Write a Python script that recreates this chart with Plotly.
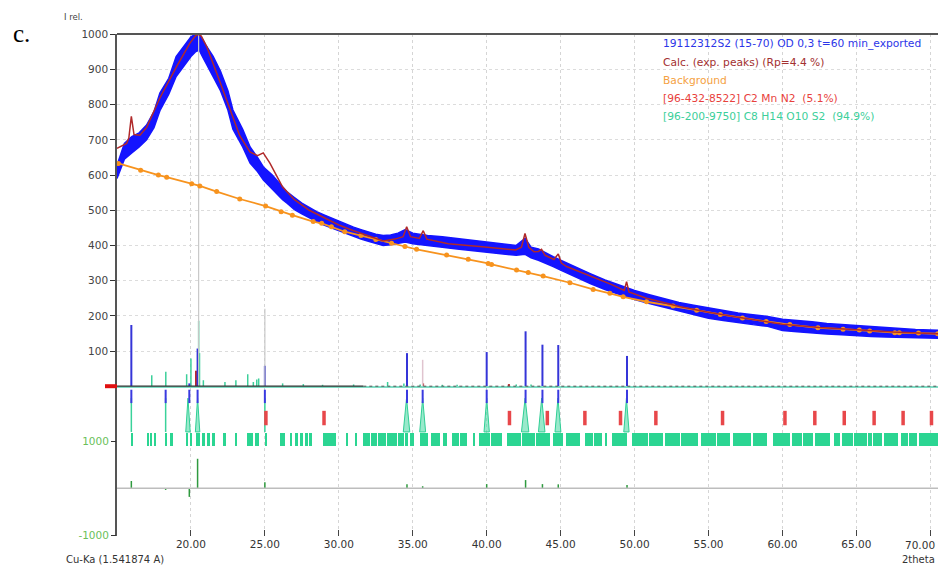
import plotly.graph_objects as go

# ---------------- data ----------------
obs_x = [15.0, 15.5, 16.0, 16.5, 17.0, 17.5, 17.9, 18.5, 19.0, 19.5, 20.0, 20.3, 20.56, 20.8, 21.0,
         21.5, 22.0, 22.5, 22.84, 23.5, 24.0, 24.5, 24.9, 25.5, 26.2, 26.5, 27.0, 27.5, 28.0, 28.5,
         29.0, 29.5, 30.0, 30.5, 31.0, 31.5, 32.0, 32.5, 33.0, 33.5, 34.0, 34.5, 35.0, 35.5, 36.0,
         37.0, 38.0, 39.0, 40.0, 41.0, 42.0, 42.6, 43.0, 43.5, 44.0, 44.5, 45.0, 45.5, 46.0, 47.0,
         48.0, 49.0, 50.0, 51.0, 52.0, 53.0, 54.0, 55.0, 56.0, 57.0, 58.0, 59.0, 60.0, 61.0, 62.0,
         63.0, 64.0, 65.0, 66.0, 67.0, 68.0, 69.0, 70.0, 70.52]
obs_lo = [590, 645, 663, 680, 700, 735, 783, 830, 880, 910, 937, 950, 955, 935, 920,
          880, 840, 785, 730, 680, 634, 610, 586, 560, 530, 520, 502, 490, 478, 468,
          458, 450, 440, 432, 425, 418, 412, 405, 400, 402, 405, 410, 405, 402, 400,
          395, 390, 385, 380, 376, 372, 375, 365, 358, 350, 340, 330, 320, 310, 292,
          275, 260, 246, 235, 224, 214, 204, 193, 187, 180, 175, 170, 158, 155, 151,
          148, 146, 143, 141, 140, 139, 138, 137, 136]
obs_hi = [628, 690, 709, 720, 742, 780, 833, 875, 937, 965, 993, 1000, 1000, 985, 970,
          937, 895, 840, 785, 730, 680, 650, 623, 600, 566, 552, 536, 520, 508, 496,
          487, 478, 468, 460, 452, 445, 438, 432, 428, 430, 435, 445, 435, 432, 428,
          425, 420, 415, 410, 405, 400, 420, 395, 390, 378, 368, 358, 348, 338, 320,
          302, 287, 272, 260, 248, 238, 230, 222, 215, 208, 203, 198, 190, 187, 183,
          178, 175, 171, 168, 165, 163, 161, 160, 159]

calc_x = [15.0, 15.65, 15.8, 15.97, 16.15, 16.55, 17.0, 17.9, 19.03, 19.93, 20.3, 20.5, 20.7, 21.08,
          21.96, 22.84, 23.3, 23.99, 24.5, 24.89, 25.34, 26.2, 27.0, 28.0, 29.0, 30.0, 31.0, 32.0,
          33.0, 33.8, 34.35, 34.59, 34.85, 35.45, 35.71, 35.95, 37.4, 39.7, 41.96, 42.35, 42.59,
          42.85, 43.2, 43.5, 43.71, 43.95, 44.55, 44.84, 45.05, 45.4, 46.3, 48.5, 49.3, 49.46,
          49.62, 50.8, 53.1, 55.0, 57.0, 60.0, 62.5, 65.0, 67.5, 70.52]
calc_y = [676, 690, 705, 767, 715, 713, 735, 819, 908, 975, 995, 1000, 995, 964,
          865, 767, 712, 666, 655, 663, 634, 566, 530, 500, 478, 458, 442, 428,
          413, 418, 425, 453, 425, 420, 442, 418, 405, 396, 387, 395, 434,
          395, 382, 383, 389, 372, 360, 376, 350, 340, 325, 288, 272, 297,
          268, 250, 226, 210, 196, 176, 167, 160, 154, 149]

bg_x = [15.1, 16.6, 17.8, 18.36, 20.05, 20.6, 21.74, 23.3, 25.05, 26.1, 26.86, 28.27, 28.84, 29.5,
        30.4, 31.5, 32.5, 33.57, 34.47, 35.26, 37.29, 38.75, 40.1, 40.33, 42.02, 42.81, 43.82,
        45.63, 47.2, 48.33, 49.23, 50.81, 52.6, 54.2, 55.8, 57.3, 58.9, 60.5, 62.4, 64.1, 65.2,
        65.9, 67.6, 67.9, 69.2, 70.5]
bg_y = [633, 614, 600, 594, 575, 569, 553, 532, 512, 496, 486, 468, 463, 453,
        439, 428, 417, 406, 397, 389, 373, 361, 349, 346, 330, 323, 313,
        294, 275, 264, 254, 240, 228, 216, 204, 194, 184, 175, 166, 162, 160,
        157, 152, 152, 151, 149]

# measured peak positions (blue sticks) and their heights
peak_x = [15.97, 18.29, 19.89, 20.45, 25.0, 34.61, 35.67, 40.0, 42.63, 43.77, 44.84, 49.49]
peak_h = [174, 0, 8, 107, 58, 94, 0, 97, 156, 118, 117, 86]
diff_v = [155, -33, -180, 625, 130, 85, 45, 90, 175, 90, 85, 70]

# reference sticks (gray / pink)
gray_x = [20.52, 25.0]
gray_h = [1000, 220]
pink_x = [35.67]
pink_h = [75]

# C8 H14 O10 S2 pattern sticks (upper)
green_x = [17.35, 18.3, 19.71, 20.0, 20.52, 20.58, 20.84, 22.3, 23.04, 23.84, 24.22, 24.45, 24.58,
           26.2, 27.6, 28.9, 31.0, 33.3, 34.4, 35.5, 37.0, 38.0, 42.0, 43.0]
green_h = [31, 41, 34, 79, 186, 94, 17, 12, 17, 34, 12, 19, 22,
           8, 6, 4, 5, 12, 8, 5, 4, 4, 5, 5]

# C2 Mn N2 pattern sticks (upper)
mn_x = [20.34, 35.7, 41.5]
mn_h = [44, 8, 6]

# C2 Mn N2 reflection markers
red_pos = [25.07, 29.0, 41.54, 44.1, 46.64, 49.05, 51.44, 55.95, 60.17, 62.19, 64.18, 66.2,
           68.16, 70.08]

# peak profile shapes
prof_x = [19.8, 20.45, 34.58, 35.67, 40.0, 42.6, 43.72, 44.82, 49.45]
prof_hw = [0.15, 0.15, 0.22, 0.2, 0.18, 0.25, 0.22, 0.2, 0.18]
thin_x = [15.97, 18.29, 25.0]

# C8 H14 O10 S2 reflection blocks
gb_start = [15.99, 17.05, 17.27, 17.50, 18.25, 18.58, 19.67, 19.94, 20.34, 20.73, 21.06, 21.40,
            22.19, 22.98, 23.81, 24.35, 25.03, 26.02, 26.70, 27.04, 27.37, 27.68, 27.98, 28.95,
            30.48, 31.09, 31.61, 32.16, 32.66, 33.26, 34.02, 34.47, 34.78, 35.49, 36.21, 37.02,
            37.63, 38.17, 39.09, 39.50, 40.27, 41.35, 42.37, 43.33, 44.46, 45.36, 46.64, 47.27,
            47.99, 48.45, 49.80, 50.97, 52.05, 53.17, 54.46, 55.57, 56.67, 58.02, 59.37, 60.62,
            61.37, 62.19, 63.50, 64.00, 64.87, 65.80, 66.14, 66.86, 68.00, 68.55, 69.23]
gb_end = [16.10, 17.18, 17.40, 17.64, 18.36, 18.81, 19.75, 20.07, 20.61, 20.95, 21.29, 21.63,
          22.37, 23.14, 24.22, 24.62, 25.12, 26.36, 26.81, 27.26, 27.60, 27.90, 28.16, 29.81,
          30.64, 31.25, 32.10, 32.60, 33.20, 33.91, 34.40, 34.70, 35.08, 36.05, 36.84, 37.33,
          38.10, 38.64, 39.20, 40.20, 41.01, 42.30, 43.26, 44.27, 45.18, 46.30, 47.20, 47.77,
          48.15, 49.50, 50.90, 51.94, 53.10, 54.30, 55.50, 56.45, 57.87, 58.93, 60.50, 61.30,
          62.08, 63.20, 63.88, 64.80, 65.69, 66.03, 66.71, 67.83, 68.46, 69.07, 70.52]

x_ticks = [20, 25, 30, 35, 40, 45, 50, 55, 60, 65, 70]
x_labels = ["%.2f" % v for v in x_ticks]
y_ticks = [100, 200, 300, 400, 500, 600, 700, 800, 900, 1000]
y2_ticks = [-1000, 1000]

legend_lines = ["19112312S2 (15-70) OD 0,3 t=60 min_exported",
                "Calc. (exp. peaks) (Rp=4.4 %)",
                "Background",
                "[96-432-8522] C2 Mn N2  (5.1%)",
                "[96-200-9750] C8 H14 O10 S2  (94.9%)"]

# ---------------- style ----------------
W, H = 938, 567
L, R, T, B = 117, 0, 34, 31
PW, PH = W - L - R, H - T - B
FONT = "DejaVu Sans"
BLUE = "#1414ff"
CALC = "#b02a2a"
ORANGE = "#f7931e"
RED = "#e8474a"
legend_colors = ["#2b35e8", "#a33030", "#f5a142", "#e8413c", "#3ccf9a"]

lane_blue = (-10, -48)
lane_prof = (-130, -34)
lane_red = (-70, -111)
lane_green = (-171, -133)


def px_x(p):
    return (p - L) / PW


def px_y(p):
    return (H - B - p) / PH


def sticks(xs, y0s, y1s):
    xx, yy = [], []
    for x, a, b in zip(xs, y0s, y1s):
        xx += [x, x, None]
        yy += [a, b, None]
    return xx, yy


fig = go.Figure()

# green reflection blocks
fig.add_trace(go.Bar(
    x=[(s + e) / 2 for s, e in zip(gb_start, gb_end)],
    y=[lane_green[1] - lane_green[0]] * len(gb_start),
    base=[lane_green[0]] * len(gb_start),
    width=[e - s for s, e in zip(gb_start, gb_end)],
    marker=dict(color="#2bd592", line=dict(width=0)),
    showlegend=False, hoverinfo="skip"))

# zero line (teal) + dark line
fig.add_shape(type="line", xref="paper", x0=0, x1=1, yref="y", y0=-2, y1=-2,
              line=dict(color="#7fdcc4", width=2))
fig.add_shape(type="line", xref="paper", x0=0, x1=0.3, yref="y", y0=0, y1=0,
              line=dict(color="#333333", width=1.2))
fig.add_shape(type="line", xref="paper", x0=0.3, x1=1, yref="y", y0=0, y1=0,
              line=dict(color="#555555", width=1, dash="dot"))
fig.add_shape(type="line", xref="paper", x0=-12 / PW, x1=0, yref="y", y0=0, y1=0,
              line=dict(color="#e01010", width=4))

# difference baseline
fig.add_shape(type="line", xref="paper", x0=0, x1=1, yref="y2", y0=0, y1=0,
              line=dict(color="#bdbdbd", width=1.5))

# profile shapes
for x, hw in zip(prof_x, prof_hw):
    fig.add_trace(go.Scatter(x=[x - hw, x, x + hw, x - hw],
                             y=[lane_prof[0], lane_prof[1], lane_prof[0], lane_prof[0]],
                             mode="lines", fill="toself", fillcolor="rgba(70,215,160,0.55)",
                             line=dict(color="#2fcf95", width=1), showlegend=False, hoverinfo="skip"))
sx, sy = sticks(thin_x, [lane_prof[0]] * len(thin_x), [lane_prof[1]] * len(thin_x))
fig.add_trace(go.Scatter(x=sx, y=sy, mode="lines", line=dict(color="#3ad29a", width=1.5),
                         showlegend=False, hoverinfo="skip"))

# red reflection markers
sx, sy = sticks(red_pos, [lane_red[0]] * len(red_pos), [lane_red[1]] * len(red_pos))
fig.add_trace(go.Scatter(x=sx, y=sy, mode="lines", line=dict(color=RED, width=3.5),
                         showlegend=False, hoverinfo="skip"))

# blue short markers
sx, sy = sticks(peak_x, [lane_blue[0]] * len(peak_x), [lane_blue[1]] * len(peak_x))
fig.add_trace(go.Scatter(x=sx, y=sy, mode="lines", line=dict(color="#3a3ae0", width=2),
                         showlegend=False, hoverinfo="skip"))

# upper green sticks
sx, sy = sticks(green_x, [0] * len(green_x), green_h)
fig.add_trace(go.Scatter(x=sx, y=sy, mode="lines", line=dict(color="#3ccf9a", width=1.5),
                         showlegend=False, hoverinfo="skip"))
# Mn sticks
sx, sy = sticks(mn_x, [0] * len(mn_x), mn_h)
fig.add_trace(go.Scatter(x=sx, y=sy, mode="lines", line=dict(color="#b8282a", width=2),
                         showlegend=False, hoverinfo="skip"))
# blue upper sticks
sx, sy = sticks(peak_x, [0] * len(peak_x), peak_h)
fig.add_trace(go.Scatter(x=sx, y=sy, mode="lines", line=dict(color="#3535d8", width=2),
                         showlegend=False, hoverinfo="skip"))

# difference sticks
sx, sy = sticks(peak_x, [0] * len(peak_x), diff_v)
fig.add_trace(go.Scatter(x=sx, y=sy, mode="lines", yaxis="y2", line=dict(color="#2f9a3f", width=1.5),
                         showlegend=False, hoverinfo="skip"))

# observed band
fig.add_trace(go.Scatter(x=obs_x, y=obs_lo, mode="lines", line=dict(color=BLUE, width=1.5),
                         showlegend=False, hoverinfo="skip"))
fig.add_trace(go.Scatter(x=obs_x, y=obs_hi, mode="lines", fill="tonexty", fillcolor=BLUE,
                         line=dict(color=BLUE, width=1.5), showlegend=False, hoverinfo="skip"))

# gray / pink reference sticks
sx, sy = sticks(gray_x, [0] * len(gray_x), gray_h)
fig.add_trace(go.Scatter(x=sx, y=sy, mode="lines", line=dict(color="#c8c8c8", width=1.2),
                         showlegend=False, hoverinfo="skip"))
sx, sy = sticks(pink_x, [0] * len(pink_x), pink_h)
fig.add_trace(go.Scatter(x=sx, y=sy, mode="lines", line=dict(color="#e0c4cf", width=1.5),
                         showlegend=False, hoverinfo="skip"))

# background
fig.add_trace(go.Scatter(x=bg_x, y=bg_y, mode="lines+markers",
                         line=dict(color=ORANGE, width=1.8),
                         marker=dict(color=ORANGE, size=5),
                         showlegend=False, hoverinfo="skip"))

# calculated
fig.add_trace(go.Scatter(x=calc_x, y=calc_y, mode="lines", line=dict(color=CALC, width=1.5),
                         showlegend=False, hoverinfo="skip"))

# top frame
fig.add_shape(type="line", xref="paper", x0=0, x1=1, yref="paper", y0=1, y1=1,
              line=dict(color="#555555", width=2))

ann = []
ann.append(dict(text="c.", x=px_x(11), y=px_y(33), xref="paper", yref="paper",
                xanchor="left", yanchor="middle", showarrow=False,
                font=dict(family="Liberation Serif", size=25, color="#000")))
ann.append(dict(text="I rel.", x=px_x(62), y=px_y(17), xref="paper", yref="paper",
                xanchor="left", yanchor="middle", showarrow=False,
                font=dict(family=FONT, size=8.5, color="#444")))
ann.append(dict(text="Cu-Ka (1.541874 A)", x=px_x(64), y=px_y(559), xref="paper", yref="paper",
                xanchor="left", yanchor="middle", showarrow=False,
                font=dict(family=FONT, size=10, color="#333")))
ann.append(dict(text="2theta", x=px_x(937), y=px_y(559), xref="paper", yref="paper",
                xanchor="right", yanchor="middle", showarrow=False,
                font=dict(family=FONT, size=10, color="#333")))
# last x tick label, kept inside the right edge
ann.append(dict(text=x_labels[-1], x=px_x(937), y=px_y(545), xref="paper", yref="paper",
                xanchor="right", yanchor="middle", showarrow=False,
                font=dict(family=FONT, size=10.5, color="#333")))
for i, (t, c) in enumerate(zip(legend_lines, legend_colors)):
    ann.append(dict(text=t, x=px_x(661), y=px_y(44 + i * 18.2), xref="paper", yref="paper",
                    xanchor="left", yanchor="middle", showarrow=False,
                    font=dict(family=FONT, size=10.7, color=c)))

fig.update_layout(
    width=W, height=H,
    margin=dict(l=L, r=R, t=T, b=B),
    paper_bgcolor="white", plot_bgcolor="white",
    showlegend=False, bargap=0,
    annotations=ann,
    xaxis=dict(range=[15.0, 70.52], tickvals=x_ticks, ticktext=x_labels[:-1] + [""],
               ticks="inside", ticklen=6, tickcolor="#444", tickwidth=1.2,
               showgrid=True, gridcolor="#d5d5d5", griddash="dot", gridwidth=1,
               showline=False, zeroline=False,
               tickfont=dict(family=FONT, size=10.5, color="#333")),
    yaxis=dict(range=[-425.7, 1000.9], tickvals=y_ticks,
               ticks="outside", ticklen=5, tickcolor="#333", tickwidth=1.2,
               showline=True, linecolor="#555", linewidth=1.5,
               showgrid=True, gridcolor="#dcdcdc", griddash="dot",
               zeroline=False, tickfont=dict(family=FONT, size=10.5, color="#444")),
    yaxis2=dict(range=[-1006, 9595], overlaying="y", side="left", anchor="x",
                tickvals=y2_ticks, ticktext=[str(v) for v in y2_ticks],
                ticks="outside", ticklen=5, tickcolor="#333", tickwidth=1.2,
                showgrid=False, showline=False, zeroline=False,
                tickfont=dict(family=FONT, size=10.5, color="#6abf5a")),
)

fig.write_html("out.html")
